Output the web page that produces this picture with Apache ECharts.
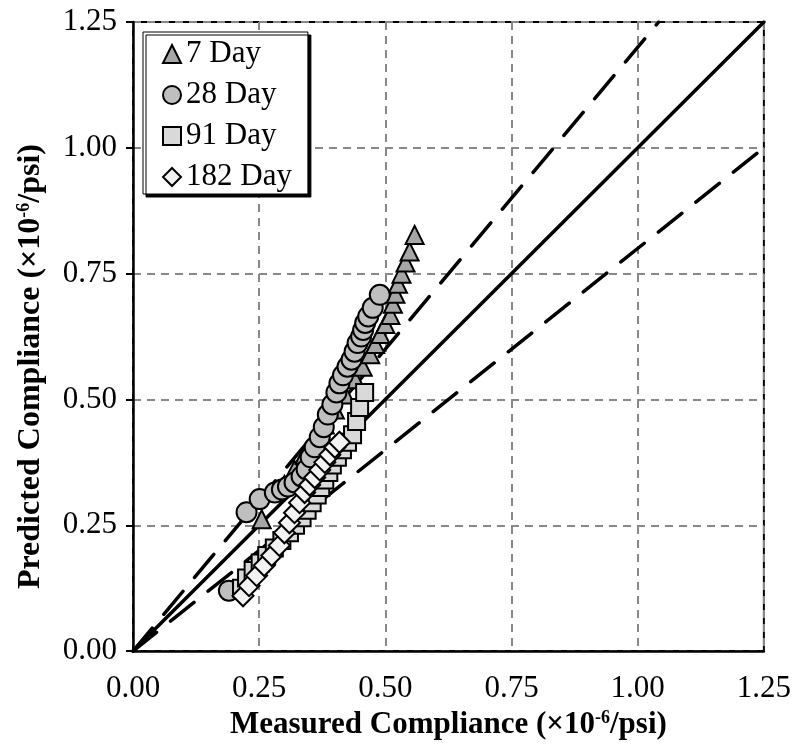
<!DOCTYPE html>
<html>
<head>
<meta charset="utf-8">
<style>
  html, body { margin: 0; padding: 0; background: #fff; }
  #chart { width: 794px; height: 745px; }
</style>
<script src="https://cdn.jsdelivr.net/npm/echarts@6/dist/echarts.min.js"></script>
</head>
<body>
<div id="chart"></div>
<script>
// Measured vs predicted compliance (x10^-6/psi) at four ages
const day7 = [
  [0.255, 0.262], [0.300, 0.330], [0.320, 0.360], [0.340, 0.390], [0.360, 0.420],
  [0.380, 0.450], [0.400, 0.480], [0.420, 0.510], [0.440, 0.540], [0.455, 0.565],
  [0.470, 0.590], [0.480, 0.610], [0.490, 0.630], [0.500, 0.650], [0.510, 0.668],
  [0.515, 0.690], [0.520, 0.710], [0.525, 0.730], [0.532, 0.750], [0.540, 0.772],
  [0.548, 0.794], [0.558, 0.827]
];
const day28 = [
  [0.190, 0.120], [0.225, 0.276], [0.251, 0.302], [0.281, 0.315], [0.295, 0.321],
  [0.307, 0.327], [0.320, 0.335], [0.334, 0.347], [0.344, 0.361], [0.352, 0.385],
  [0.360, 0.405], [0.370, 0.425], [0.378, 0.445], [0.386, 0.470], [0.395, 0.490],
  [0.403, 0.514], [0.409, 0.532], [0.416, 0.548], [0.425, 0.565], [0.433, 0.579],
  [0.439, 0.595], [0.445, 0.612], [0.452, 0.625], [0.456, 0.638], [0.460, 0.652],
  [0.466, 0.665], [0.475, 0.682], [0.489, 0.708]
];
const day91 = [
  [0.215, 0.125], [0.225, 0.145], [0.238, 0.160], [0.252, 0.175], [0.265, 0.190],
  [0.280, 0.205], [0.295, 0.220], [0.310, 0.235], [0.322, 0.250], [0.335, 0.265],
  [0.345, 0.280], [0.355, 0.295], [0.365, 0.310], [0.372, 0.325], [0.380, 0.340],
  [0.388, 0.355], [0.395, 0.370], [0.405, 0.385], [0.415, 0.400], [0.425, 0.415],
  [0.435, 0.430], [0.443, 0.456], [0.449, 0.484], [0.459, 0.514]
];
const day182 = [
  [0.218, 0.110], [0.230, 0.130], [0.245, 0.150], [0.260, 0.170], [0.275, 0.190],
  [0.290, 0.210], [0.300, 0.235], [0.310, 0.255], [0.320, 0.275], [0.330, 0.295],
  [0.340, 0.315], [0.350, 0.330], [0.360, 0.345], [0.370, 0.360], [0.380, 0.375],
  [0.390, 0.390], [0.400, 0.405], [0.409, 0.415]
];

// Line of equality and +/-20% bounds
const equalityLine = [[0, 0], [1.25, 1.25]];
const upperBound = [[0, 0], [1.25 / 1.2, 1.25]];
const lowerBound = [[0, 0], [1.25, 1.0]];

const serif = '"Liberation Serif", "Times New Roman", serif';
const FS = 31;

const chart = echarts.init(document.getElementById('chart'), null, { renderer: 'canvas' });

function refLine(data, dashed) {
  return {
    type: 'line',
    data: data,
    symbol: 'none',
    silent: true,
    animation: false,
    lineStyle: {
      color: '#000',
      width: 3.5,
      type: dashed ? [30, 18] : 'solid',
      cap: 'round'
    },
    z: 1
  };
}

function markers(name, data, symbol, size, fill) {
  return {
    name: name,
    type: 'scatter',
    data: data,
    symbol: symbol,
    symbolSize: size,
    animation: false,
    itemStyle: { color: fill, borderColor: '#000', borderWidth: 2, opacity: 1 },
    z: 3
  };
}

const axisNameRich = {
  sup: { fontSize: 18, fontWeight: 'bold', fontFamily: serif, color: '#000', verticalAlign: 'top', padding: [0, 0, 12, 0] }
};

chart.setOption({
  backgroundColor: '#fff',
  animation: false,
  grid: {
    left: 133, right: 29, top: 22, bottom: 93,
    show: true, borderColor: '#000', borderWidth: 2, backgroundColor: 'transparent'
  },
  legend: {
    data: ['7 Day', '28 Day', '91 Day', '182 Day'],
    orient: 'vertical',
    left: 143, top: 32,
    padding: [6, 16, 1, 19],
    itemGap: 9,
    itemWidth: 18, itemHeight: 18,
    backgroundColor: '#fff',
    borderColor: '#000', borderWidth: 1,
    shadowColor: '#000', shadowOffsetX: 3, shadowOffsetY: 3, shadowBlur: 0,
    textStyle: { fontFamily: serif, fontSize: FS, lineHeight: 32, color: '#000' }
  },
  xAxis: {
    type: 'value', min: 0, max: 1.25, interval: 0.25,
    name: 'Measured Compliance (×10{sup|-6}/psi)',
    nameLocation: 'middle', nameGap: 47,
    nameTextStyle: { fontFamily: serif, fontSize: FS, fontWeight: 'bold', color: '#000', rich: axisNameRich },
    axisLine: { lineStyle: { color: '#000', width: 2.5 } },
    axisTick: { show: false },
    axisLabel: { fontFamily: serif, fontSize: FS, color: '#000', margin: 22, formatter: v => v.toFixed(2) },
    splitLine: { show: true, lineStyle: { color: '#888', width: 2, type: [8, 6] } }
  },
  yAxis: {
    type: 'value', min: 0, max: 1.25, interval: 0.25,
    name: 'Predicted Compliance (×10{sup|-6}/psi)',
    nameLocation: 'middle', nameGap: 86, nameRotate: 90,
    nameTextStyle: { fontFamily: serif, fontSize: FS + 1, fontWeight: 'bold', color: '#000', rich: axisNameRich, padding: [0, 60, 0, 0] },
    axisLine: { lineStyle: { color: '#000', width: 2.5 } },
    axisTick: { show: true, inside: false, length: 7, lineStyle: { color: '#000', width: 2 } },
    axisLabel: { fontFamily: serif, fontSize: FS, color: '#000', margin: 16, formatter: v => v.toFixed(2) },
    splitLine: { show: true, lineStyle: { color: '#888', width: 2, type: [8, 6] } }
  },
  series: [
    refLine(equalityLine, false),
    refLine(upperBound, true),
    refLine(lowerBound, true),
    markers('7 Day', day7, 'triangle', 18, '#a6a6a6'),
    markers('28 Day', day28, 'circle', 20, '#bfbfbf'),
    markers('91 Day', day91, 'rect', 17, '#d9d9d9'),
    markers('182 Day', day182, 'diamond', 21, '#f2f2f2')
  ]
});
</script>
</body>
</html>
